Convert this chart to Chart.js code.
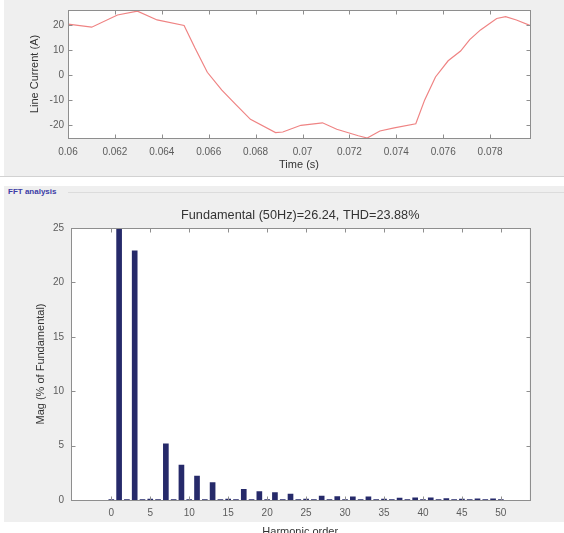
<!DOCTYPE html>
<html>
<head>
<meta charset="utf-8">
<script src="https://cdn.jsdelivr.net/npm/chart.js@4.4.1/dist/chart.umd.min.js"></script>
<style>
  html,body{margin:0;padding:0;}
  body{width:564px;height:533px;overflow:hidden;position:relative;background:#ffffff;font-family:'Liberation Sans',Arial,sans-serif;}
  .panel{position:absolute;background:#efefef;}
  canvas{position:absolute;left:0;}
</style>
</head>
<body>
<div class="panel" style="left:4px;top:0;width:560px;height:176px;"></div>
<div style="position:absolute;left:0;top:176px;width:564px;height:1px;background:#d2d2d2;"></div>
<div class="panel" style="left:4px;top:186px;width:560px;height:336px;"></div>
<div style="position:absolute;left:68px;top:192px;width:496px;height:1px;background:#dcdcdc;"></div>
<div style="position:absolute;left:8px;top:186px;font:bold 8px 'Liberation Sans',Arial,sans-serif;color:#3c3ca6;line-height:12px;">FFT analysis</div>
<canvas id="c1" width="564" height="176" style="top:0;"></canvas>
<canvas id="c2" width="564" height="350" style="top:196px;"></canvas>
<script>
// ---- Top chart data: line current waveform ----
const timeS = [0.06, 0.06101, 0.06211, 0.06296, 0.0638, 0.06495, 0.06541, 0.06594, 0.06656, 0.06717, 0.06778, 0.06885, 0.06916, 0.06993, 0.07085, 0.07146, 0.07238, 0.07276, 0.0733, 0.07391, 0.07483, 0.07521, 0.07567, 0.07621, 0.07674, 0.07713, 0.07759, 0.07828, 0.07866, 0.07912, 0.0797];
const lineCurrentA = [20.5, 19.3, 24.2, 25.7, 22.2, 20.0, 11.0, 1.2, -6.0, -11.9, -17.7, -23.0, -22.8, -20.1, -19.1, -21.7, -24.3, -25.2, -22.4, -21.1, -19.5, -9.9, -0.7, 5.8, 9.7, 14.3, 18.2, 22.8, 23.5, 22.2, 20.0];
const timeTicks = [0.06, 0.062, 0.064, 0.066, 0.068, 0.07, 0.072, 0.074, 0.076, 0.078];
const currentTicks = [-20, -10, 0, 10, 20];

// ---- Bottom chart data: FFT harmonic spectrum ----
const harmonicOrder = [0,1,2,3,4,5,6,7,8,9,10,11,12,13,14,15,16,17,18,19,20,21,22,23,24,25,26,27,28,29,30,31,32,33,34,35,36,37,38,39,40,41,42,43,44,45,46,47,48,49,50];
const magPct = [0.05,100,0.05,22.9,0.05,0.08,0.05,5.16,0.05,3.2,0.05,2.2,0.05,1.6,0.05,0.08,0.05,0.98,0.05,0.77,0.05,0.68,0.05,0.55,0.05,0.08,0.05,0.37,0.05,0.31,0.05,0.3,0.05,0.28,0.05,0.08,0.05,0.18,0.05,0.2,0.05,0.2,0.05,0.12,0.05,0.08,0.05,0.1,0.05,0.1,0.05];
const harmonicTicks = [0, 5, 10, 15, 20, 25, 30, 35, 40, 45, 50];
const magTicks = [0, 5, 10, 15, 20, 25];
const fftTitle = 'Fundamental (50Hz)=26.24, THD=23.88%';

const FAM = "'Liberation Sans', Arial, sans-serif";

const boxPlugin = {
  id: 'boxTicks',
  beforeDraw(chart) {
    const {ctx, chartArea: a} = chart;
    ctx.save();
    ctx.fillStyle = '#ffffff';
    ctx.fillRect(a.left, a.top, a.right - a.left, a.bottom - a.top);
    ctx.restore();
  },
  afterDraw(chart) {
    const {ctx, chartArea: a} = chart;
    const xs = chart.scales.x, ys = chart.scales.y;
    ctx.save();
    ctx.strokeStyle = '#8e8e8e';
    ctx.lineWidth = 1;
    const l = Math.round(a.left) + 0.5, t = Math.round(a.top) + 0.5;
    const r = Math.round(a.right) + 0.5, b = Math.round(a.bottom) + 0.5;
    ctx.strokeRect(l, t, r - l, b - t);
    const L = 4;
    ctx.beginPath();
    xs.ticks.forEach(tk => {
      const px = Math.round(xs.getPixelForValue(tk.value)) + 0.5;
      ctx.moveTo(px, b); ctx.lineTo(px, b - L);
      ctx.moveTo(px, t); ctx.lineTo(px, t + L);
    });
    ys.ticks.forEach(tk => {
      const py = Math.round(ys.getPixelForValue(tk.value)) + 0.5;
      ctx.moveTo(l, py); ctx.lineTo(l + L, py);
      ctx.moveTo(r, py); ctx.lineTo(r - L, py);
    });
    ctx.stroke();
    ctx.restore();
  }
};

new Chart(document.getElementById('c1'), {
  type: 'line',
  data: {
    datasets: [{
      data: timeS.map((t, i) => ({x: t, y: lineCurrentA[i]})),
      borderColor: '#ef8383',
      borderWidth: 1.2,
      pointRadius: 0,
      fill: false,
      tension: 0
    }]
  },
  options: {
    responsive: false,
    animation: false,
    devicePixelRatio: 1,
    layout: {padding: {left: 0, right: 34, top: 8, bottom: 0}},
    plugins: {legend: {display: false}, tooltip: {enabled: false}},
    scales: {
      x: {
        type: 'linear', min: 0.06, max: 0.0797,
        grid: {display: false, drawTicks: false},
        border: {display: false},
        afterBuildTicks: s => { s.ticks = timeTicks.map(v => ({value: v})); },
        afterFit: s => { s.height = 38; },
        ticks: {padding: 8, color: '#5c5c5c', font: {family: FAM, size: 10}, maxRotation: 0, autoSkip: false, callback: v => String(v)},
        title: {display: true, text: 'Time (s)', color: '#333333', font: {family: FAM, size: 11}, padding: {top: 0, bottom: 4}}
      },
      y: {
        type: 'linear', min: -25.2, max: 26.2,
        grid: {display: false, drawTicks: false},
        border: {display: false},
        afterBuildTicks: s => { s.ticks = currentTicks.map(v => ({value: v})); },
        afterFit: s => { s.width = 68; },
        ticks: {padding: 4, color: '#5c5c5c', font: {family: FAM, size: 10}, callback: v => String(v)},
        title: {display: true, text: 'Line Current (A)', color: '#333333', font: {family: FAM, size: 11}, padding: {top: 28, bottom: 0}}
      }
    }
  },
  plugins: [boxPlugin]
});

new Chart(document.getElementById('c2'), {
  type: 'bar',
  data: {
    datasets: [{
      data: harmonicOrder.map((h, i) => ({x: h, y: magPct[i]})),
      backgroundColor: '#262a6a',
      borderWidth: 0,
      barThickness: 5
    }]
  },
  options: {
    responsive: false,
    animation: false,
    devicePixelRatio: 1,
    layout: {padding: {left: 0, right: 34.5, top: 0, bottom: 0}},
    plugins: {legend: {display: false}, tooltip: {enabled: false}},
    scales: {
      x: {
        type: 'linear', min: -2.5, max: 51,
        grid: {display: false, drawTicks: false},
        border: {display: false},
        afterBuildTicks: s => { s.ticks = harmonicTicks.map(v => ({value: v})); },
        afterFit: s => { s.height = 46; },
        ticks: {padding: 7, color: '#5c5c5c', font: {family: FAM, size: 10}, maxRotation: 0, autoSkip: false, callback: v => String(v)},
        title: {display: true, text: 'Harmonic order', color: '#333333', font: {family: FAM, size: 11}, padding: {top: 0, bottom: 7}}
      },
      xTop: {
        type: 'linear', position: 'top', min: -2.5, max: 51,
        grid: {display: false, drawTicks: false},
        border: {display: false},
        afterFit: s => { s.height = 32; },
        ticks: {display: false},
        title: {display: true, text: fftTitle, color: '#333333', font: {family: FAM, size: 12.7}, padding: {top: 11.4, bottom: 0}}
      },
      y: {
        type: 'linear', min: 0, max: 25,
        grid: {display: false, drawTicks: false},
        border: {display: false},
        afterBuildTicks: s => { s.ticks = magTicks.map(v => ({value: v})); },
        afterFit: s => { s.width = 71; },
        ticks: {padding: 7, color: '#5c5c5c', font: {family: FAM, size: 10}, callback: v => String(v)},
        title: {display: true, text: 'Mag (% of Fundamental)', color: '#333333', font: {family: FAM, size: 11}, padding: {top: 34, bottom: 0}}
      }
    }
  },
  plugins: [boxPlugin]
});
</script>
</body>
</html>
